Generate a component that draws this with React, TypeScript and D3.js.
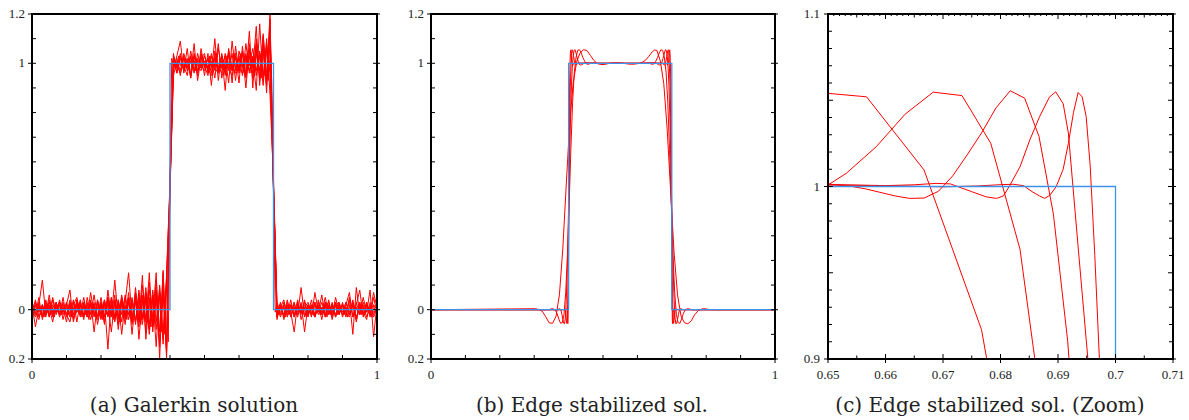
import * as d3 from 'd3'

// Galerkin runs: nodal values, in hundredths of u
// runs 1-7 on a uniform mesh of 100 elements, run 8 on 200 elements
const galerkinNodes = d3.range(0, 101).map((i) => i / 100)
const galerkinFineNodes = d3.range(0, 201).map((i) => i / 200)

const galerkinRun1 = [
    0, -3, 2, 12, -2, 3, -1, 2, -3, 1,
    -5, 3, -2, 4, -1, 2, -3, 7, -2, 1,
    -4, 3, -16, 5, -3, 4, -10, 3, 15, -4,
    6, -5, 14, -12, 5, -3, 15, -20, 16, -18,
    50, 97, 103, 109, 96, 102, 94, 104, 97, 103,
    95, 104, 91, 105, 97, 103, 89, 106, 97, 104,
    92, 107, 95, 113, 90, 110, 94, 108, 88, 118,
    50, -2, 3, -4, 2, -1, 3, -2, 9, -3,
    2, -2, 3, -1, 6, -3, 2, -2, 5, -1,
    2, -3, 4, -10, 9, -2, 3, -1, 8, -11,
    2,
]
const galerkinRun2 = [
    2, -7, 1, -3, 4, -2, 5, -1, 3, -4,
    2, 8, -5, 2, -3, 3, -2, 4, -9, 3,
    -3, 4, -2, 5, -4, 3, -5, 6, -2, 5,
    -6, 8, -4, 9, -8, 6, -15, 10, -12, 14,
    52, 104, 96, 102, 97, 106, 94, 103, 95, 106,
    98, 102, 96, 110, 93, 104, 97, 105, 92, 107,
    96, 104, 90, 106, 98, 115, 91, 112, 95, 120,
    48, -4, 2, -3, 4, -2, 1, -3, 3, -9,
    2, -3, 7, -1, 3, -2, 4, -3, 2, -2,
    3, -2, 5, -3, 2, 8, -3, 2, -2, 7,
    1,
]
const galerkinRun3 = [
    -1, 4, -3, 2, -2, 6, -3, 1, -2, 3,
    -2, -5, 3, -1, 4, -3, 2, -2, 6, -3,
    3, -6, 8, -3, 12, -4, 3, -6, 5, -10,
    4, -7, 10, -5, 15, -9, 6, -15, 12, -17,
    48, 95, 101, 97, 104, 99, 96, 108, 93, 102,
    104, 96, 101, 94, 106, 98, 103, 92, 109, 97,
    103, 95, 108, 97, 102, 89, 116, 93, 110, 87,
    53, 2, -3, 1, -2, 4, -3, 2, -1, 3,
    -3, 2, -2, 3, -1, 5, -2, 3, -3, 1,
    -2, 2, 7, -3, 3, -2, 5, -1, 2, -3,
    0,
]
const galerkinRun4 = [
    1, -2, 5, -4, 2, -3, 4, -2, 3, -1,
    3, -2, 4, -5, 3, -2, 3, -4, 2, -3,
    5, -3, 2, -9, 4, -3, 6, -2, 4, -5,
    7, -12, 5, -4, 8, -6, 12, -9, 15, -20,
    55, 102, 98, 104, 97, 101, 95, 103, 99, 97,
    101, 97, 104, 98, 96, 103, 95, 104, 98, 102,
    97, 105, 94, 103, 96, 108, 93, 106, 91, 113,
    47, -3, 2, -2, 3, -1, -9, 3, -2, 4,
    -2, 4, -3, 2, -4, 3, -1, 2, -2, 3,
    -1, 3, -2, 4, -4, 3, -2, 3, -3, 5,
    -1,
]
const galerkinRun5 = [
    -2, 3, -1, 2, -3, 4, -2, 3, -2, 5,
    -3, 2, -4, 3, -2, 5, -3, 2, -3, 4,
    -2, 4, -3, 3, -5, 4, -2, 5, -4, 3,
    -5, 6, -3, 7, -6, 8, -5, 9, -14, 13,
    50, 103, 99, 96, 102, 98, 103, 97, 101, 99,
    97, 102, 99, 103, 96, 101, 98, 103, 99, 96,
    102, 98, 104, 96, 103, 97, 105, 95, 106, 99,
    50, 1, -2, 3, -1, 2, -3, 2, -1, 2,
    -1, 2, -3, 1, -2, 3, -2, 1, -3, 2,
    -2, 3, -1, 2, -3, 1, -2, 3, -1, 2,
    0,
]
const galerkinRun6 = [
    3, -1, -4, 2, -2, 1, -5, 3, -1, 2,
    -2, 4, -3, -1, 3, -4, 5, -2, 3, -6,
    2, -3, 5, -2, 6, -8, 4, -3, 7, -6,
    9, -4, 6, -9, 11, -7, 8, -13, 10, -15,
    51, 101, 96, 103, 99, 95, 105, 98, 96, 104,
    99, 95, 103, 97, 108, 94, 101, 97, 104, 93,
    105, 99, 96, 108, 94, 104, 97, 111, 93, 115,
    51, -3, 1, 4, -3, 2, -2, 4, -4, 1,
    3, -1, -3, 4, -2, 1, 3, -4, 2, 3,
    -3, 1, -2, 3, -5, 2, -1, -4, 3, -2,
    1,
]
const galerkinRun7 = [
    -3, 2, 1, -2, 3, -3, 2, -1, 4, -2,
    1, -3, 2, 5, -2, 1, -2, 3, -1, -4,
    3, -5, 4, -2, 3, -6, 5, -4, 3, -2,
    -4, 5, -6, 4, -10, 5, -8, 7, -10, 11,
    49, 99, 102, 95, 103, 97, 101, 96, 104, 98,
    103, 98, 95, 102, 99, 96, 104, 98, 95, 103,
    98, 96, 103, 99, 106, 95, 104, 91, 107, 96,
    49, 3, -1, -2, 2, -3, 1, -1, 2, -2,
    -2, 1, 2, -2, 1, -3, 2, -1, 3, -2,
    2, -1, -3, 2, 1, -2, 2, -3, 1, -1,
    0,
]
const galerkinRun8 = [
    1, -2, 2, -1, 3, -2, 1, -3, 2, -1, 2, -2, 1, -3, 3, -1, 2, -2, 1, -2,
    3, -2, 2, -3, 1, -2, 4, -1, 2, -3, 3, -2, 1, -4, 3, -2, 2, -3, 4, -1,
    2, -4, 3, -2, 5, -3, 2, -4, 4, -2, 3, -5, 4, -3, 2, -4, 5, -3, 4, -2,
    5, -4, 3, -6, 4, -3, 6, -5, 4, -7, 6, -5, 8, -6, 7, -9, 8, -10, 11, -13,
    50,
    102, 99, 101, 98, 103, 99, 100, 97, 102, 101, 98, 103, 99, 101, 97, 102, 100, 98, 103,
    99, 101, 97, 103, 98, 101, 99, 104, 97, 102, 98, 101, 96, 103, 99, 102, 97, 104, 98, 101,
    97, 104, 99, 96, 103, 98, 105, 96, 102, 95, 106, 97, 104, 94, 107, 95, 108, 93, 110, 92,
    50,
    -1, 2, -2, 1, -1, 2, -3, 1, -2, 2, -1, 3, -2, 1, -1, 2, -2, 1, -3,
    2, -1, 1, -2, 3, -1, 2, -2, 1, -1, 2, -3, 1, -2, 2, -1, 3, -2, 1, -1,
    2, -2, 1, -3, 2, -1, 2, -2, 1, -1, 3, -2, 1, -2, 2, -1, 1, -3, 2, -1, 0,
]
const galerkinRuns = [galerkinRun1, galerkinRun2, galerkinRun3, galerkinRun4, galerkinRun5, galerkinRun6, galerkinRun7]

// exact solution
const exactX = [0, 0.4, 0.4, 0.7, 0.7, 1]
const exactU = [0, 0, 1, 1, 0, 0]

// edge stabilized runs, vertices [x, u], coarse to fine mesh
const edgeRunA = [
    [0, 0], [0.2933, 0.004], [0.3033, 0.004], [0.3133, 0.001], [0.3233, -0.006], [0.3333, -0.028],
    [0.3433, -0.053], [0.3533, -0.055], [0.3633, -0.028], [0.3733, 0.06], [0.3833, 0.25], [0.3933, 0.51],
    [0.4033, 0.76], [0.4133, 0.92], [0.4233, 1.005], [0.4333, 1.042], [0.4433, 1.055], [0.4533, 1.052],
    [0.4633, 1.032], [0.4733, 1.012], [0.4833, 0.999], [0.4933, 0.995], [0.5033, 0.995], [0.5133, 0.998],
    [0.5233, 1.001], [0.5333, 1.002], [0.5433, 1.002], [0.5533, 1.001], [0.5633, 0.999], [0.5733, 0.997],
    [0.5833, 0.996], [0.5933, 0.997], [0.6033, 0.999], [0.6133, 1.003], [0.6233, 1.012], [0.6333, 1.028],
    [0.6433, 1.047], [0.65, 1.054], [0.6567, 1.052], [0.6667, 1.0096], [0.6767, 0.917], [0.6867, 0.73],
    [0.6967, 0.48], [0.7067, 0.23], [0.7167, 0.06], [0.7267, -0.025], [0.7367, -0.053], [0.7467, -0.057],
    [0.7567, -0.045], [0.7667, -0.02], [0.7767, -0.004], [0.7867, 0.003], [0.7967, 0.004], [0.8067, 0.001],
    [0.8167, 0], [1, 0],
]
const edgeRunB = [
    [0, 0], [0.3416, 0], [0.3466, 0.002], [0.3516, 0.004], [0.3566, 0.003], [0.3616, -0.002],
    [0.3666, -0.016], [0.3716, -0.038], [0.3766, -0.055], [0.3816, -0.053], [0.3866, -0.02], [0.3916, 0.07],
    [0.3966, 0.22], [0.4016, 0.43], [0.4066, 0.65], [0.4116, 0.84], [0.4166, 0.9635], [0.4217, 1.025],
    [0.4267, 1.053], [0.4317, 1.055], [0.4366, 1.042], [0.4416, 1.023], [0.4468, 1.008], [0.4518, 0.997],
    [0.4568, 0.996], [0.4618, 0.998], [0.4668, 1.001], [0.4718, 1.002], [0.4768, 1.0015], [0.4818, 1.0],
    [0.6182, 1.0], [0.6232, 1.0015], [0.6282, 1.002], [0.6332, 1.0008], [0.6382, 0.998], [0.6432, 0.996],
    [0.6482, 0.997], [0.6532, 1.0077], [0.6584, 1.0231], [0.6634, 1.0419], [0.6683, 1.0547], [0.6733, 1.0527],
    [0.6783, 1.0251], [0.6834, 0.9635], [0.6884, 0.84], [0.6934, 0.65], [0.6984, 0.43], [0.7034, 0.22],
    [0.7084, 0.07], [0.7134, -0.02], [0.7184, -0.053], [0.7234, -0.055], [0.7284, -0.038], [0.7334, -0.016],
    [0.7384, -0.002], [0.7434, 0.003], [0.7484, 0.004], [0.7534, 0.002], [0.7584, 0], [1, 0],
]
const edgeRunC = [
    [0, 0], [0.3633, 0], [0.3683, 0.001], [0.3733, 0.004], [0.3758, 0.003], [0.3783, -0.005],
    [0.3808, -0.02], [0.3833, -0.04], [0.3858, -0.055], [0.3883, -0.057], [0.3908, -0.03], [0.3933, 0.04],
    [0.3958, 0.15], [0.3983, 0.3], [0.4008, 0.47], [0.4033, 0.64], [0.4058, 0.79], [0.4083, 0.91],
    [0.4108, 0.984], [0.4133, 1.029], [0.4158, 1.051], [0.4183, 1.0555], [0.4208, 1.0455], [0.4233, 1.031],
    [0.4258, 1.018], [0.4283, 1.006], [0.4308, 0.997], [0.4333, 0.9933], [0.4358, 0.9931], [0.4383, 0.9945],
    [0.4433, 0.9985], [0.4458, 1.0], [0.4508, 1.0018], [0.4558, 1.0025], [0.4608, 1.002], [0.4658, 1.001],
    [0.4708, 1.0], [0.6292, 1.0], [0.6342, 1.001], [0.6392, 1.002], [0.6442, 1.0025], [0.6492, 1.0018],
    [0.6542, 1.0], [0.6567, 0.9985], [0.6617, 0.9945], [0.6642, 0.9931], [0.6667, 0.9933], [0.6692, 0.9972],
    [0.6717, 1.0062], [0.6742, 1.0183], [0.6767, 1.031], [0.6792, 1.0455], [0.6817, 1.0555], [0.6842, 1.0512],
    [0.6867, 1.029], [0.6892, 0.984], [0.6917, 0.91], [0.6942, 0.79], [0.6967, 0.64], [0.6992, 0.47],
    [0.7017, 0.3], [0.7042, 0.15], [0.7067, 0.04], [0.7092, -0.03], [0.7117, -0.057], [0.7142, -0.055],
    [0.7167, -0.04], [0.7192, -0.02], [0.7217, -0.005], [0.7242, 0.003], [0.7267, 0.004], [0.7317, 0.001],
    [0.7367, 0], [1, 0],
]
const edgeRunD = [
    [0, 0], [0.382, 0], [0.386, 0.001], [0.3885, 0.004], [0.3898, 0.002], [0.391, -0.008],
    [0.3923, -0.025], [0.3935, -0.045], [0.3948, -0.056], [0.396, -0.045], [0.3973, 0.02], [0.3985, 0.13],
    [0.3998, 0.28], [0.401, 0.45], [0.4023, 0.62], [0.4035, 0.78], [0.4048, 0.9], [0.4065, 0.965],
    [0.4082, 1.031], [0.4091, 1.048], [0.4104, 1.0549], [0.4115, 1.0518], [0.4132, 1.0405], [0.4149, 1.027],
    [0.4166, 1.0115], [0.4184, 1.0005], [0.4195, 0.9945], [0.4207, 0.9931], [0.4225, 0.994], [0.425, 0.997],
    [0.4287, 1.0015], [0.4312, 1.0018], [0.435, 1.001], [0.44, 1.0005], [0.45, 1.0008], [0.46, 1.0005],
    [0.47, 1.0], [0.63, 1.0], [0.64, 1.0005], [0.65, 1.0008], [0.66, 1.0005], [0.665, 1.001],
    [0.6688, 1.0018], [0.6713, 1.0015], [0.675, 0.997], [0.6775, 0.994], [0.6793, 0.9931], [0.6805, 0.9945],
    [0.6816, 1.0005], [0.6834, 1.0115], [0.6851, 1.027], [0.6868, 1.0405], [0.6885, 1.0518], [0.6896, 1.0549],
    [0.6909, 1.048], [0.6918, 1.031], [0.6935, 0.965], [0.6952, 0.9], [0.6965, 0.78], [0.6977, 0.62],
    [0.699, 0.45], [0.7002, 0.28], [0.7015, 0.13], [0.7027, 0.02], [0.704, -0.045], [0.7052, -0.056],
    [0.7065, -0.045], [0.7077, -0.025], [0.709, -0.008], [0.7102, 0.002], [0.7115, 0.004], [0.714, 0.001],
    [0.718, 0], [1, 0],
]
const edgeRunE = [
    [0, 0], [0.391, 0], [0.3935, 0.002], [0.3947, 0.004], [0.3954, 0.001], [0.396, -0.012],
    [0.3966, -0.032], [0.3972, -0.05], [0.3979, -0.056], [0.3985, -0.04], [0.3991, 0.03], [0.3997, 0.14],
    [0.4004, 0.29], [0.401, 0.45], [0.4016, 0.62], [0.4022, 0.78], [0.4028, 0.9], [0.4036, 0.96],
    [0.4044, 1.012], [0.4051, 1.0405], [0.4058, 1.052], [0.4065, 1.0545], [0.4073, 1.043], [0.4082, 1.025],
    [0.4091, 1.01], [0.4103, 1.0], [0.4114, 0.995], [0.4123, 0.9931], [0.4132, 0.9945], [0.4145, 0.997],
    [0.416, 1.0005], [0.4178, 1.0013], [0.4203, 1.001], [0.424, 1.0003], [0.43, 0.9998], [0.44, 1.0005],
    [0.45, 1.0012], [0.47, 1.0], [0.63, 1.0], [0.65, 1.0012], [0.66, 1.0005], [0.67, 0.9998],
    [0.676, 1.0003], [0.6797, 1.001], [0.6822, 1.0013], [0.684, 1.0005], [0.6855, 0.997], [0.6868, 0.9945],
    [0.6877, 0.9931], [0.6886, 0.995], [0.6897, 1.0], [0.6909, 1.01], [0.6918, 1.025], [0.6927, 1.043],
    [0.6935, 1.0545], [0.6942, 1.052], [0.6949, 1.0405], [0.6956, 1.012], [0.6964, 0.96], [0.6972, 0.9],
    [0.6978, 0.78], [0.6984, 0.62], [0.699, 0.45], [0.6996, 0.29], [0.7003, 0.14], [0.7009, 0.03],
    [0.7015, -0.04], [0.7021, -0.056], [0.7028, -0.05], [0.7034, -0.032], [0.704, -0.012], [0.7046, 0.001],
    [0.7053, 0.004], [0.7065, 0.002], [0.709, 0], [1, 0],
]
const edgeRuns = [edgeRunA, edgeRunB, edgeRunC, edgeRunD, edgeRunE]

// tick labels, as printed
const fullXLabels = [[0, '0'], [1, '1']]
const fullYLabels = [[-0.2, '0.2'], [0, '0'], [1, '1'], [1.2, '1.2']]
const zoomXLabels = [[0.65, '0.65'], [0.66, '0.66'], [0.67, '0.67'], [0.68, '0.68'], [0.69, '0.69'], [0.7, '0.7'], [0.71, '0.71']]
const zoomYLabels = [[0.9, '0.9'], [1, '1'], [1.1, '1.1']]

const RED = '#ff0000'
const BLUE = '#3b93ec'
const SERIF = '"Liberation Serif", "Times New Roman", serif'
const CAPTION_FONT = '"DejaVu Serif", serif'

const fullXTicks = d3.range(0, 11).map((i) => ({ v: i / 10, len: 4, bottom: true }))
const fullYTicks = d3.range(-2, 13).map((i) => ({ v: i / 10, len: 4 }))
const zoomXTicks = d3.range(0, 61).map((i) => ({
    v: 0.65 + i / 1000,
    len: i % 10 === 0 ? 5 : i % 5 === 0 ? 3.5 : 2,
    bottom: i % 5 === 0,
}))
const zoomYTicks = d3.range(0, 21).map((i) => ({ v: 0.9 + i / 100, len: i % 5 === 0 ? 5 : 4 }))

function Panel({ id, left, right, top, bottom, xDomain, yDomain, curves, xLabels, yLabels, xTicks, yTicks, topTicks, caption, captionX, labelGap }) {
    const x = d3.scaleLinear().domain(xDomain).range([left, right])
    const y = d3.scaleLinear().domain(yDomain).range([bottom, top])
    const line = d3
        .line()
        .x((d) => x(d[0]))
        .y((d) => y(d[1]))

    const exactPts = exactX.map((v, i) => [v, exactU[i]])

    return (
        <g>
            <defs>
                <clipPath id={id}>
                    <rect x={left} y={top} width={right - left} height={bottom - top} />
                </clipPath>
            </defs>
            <g clipPath={`url(#${id})`}>
                {curves.map((c, i) => (
                    <path key={i} d={line(c)} fill="none" stroke={RED} strokeWidth={1} strokeLinejoin="round" />
                ))}
                <path d={line(exactPts)} fill="none" stroke={BLUE} strokeWidth={1.3} />
            </g>

            {yTicks.map((t, i) => (
                <g key={'y' + i} stroke="#000" strokeWidth={1}>
                    <line x1={left} x2={left + t.len} y1={y(t.v)} y2={y(t.v)} />
                    <line x1={right} x2={right - t.len} y1={y(t.v)} y2={y(t.v)} />
                </g>
            ))}
            {xTicks.map((t, i) => (
                <g key={'x' + i} stroke="#000" strokeWidth={1}>
                    {t.bottom && <line x1={x(t.v)} x2={x(t.v)} y1={bottom} y2={bottom - t.len} />}
                    {topTicks && <line x1={x(t.v)} x2={x(t.v)} y1={top} y2={top + t.len} />}
                </g>
            ))}
            {yLabels.map(([v, s]) => (
                <g key={'yl' + s}>
                    <line x1={left - 4} x2={left} y1={y(v)} y2={y(v)} stroke="#000" />
                    <line x1={right} x2={right + 3} y1={y(v)} y2={y(v)} stroke="#000" />
                    <text x={left - labelGap} y={y(v) + 4} textAnchor="end" fontFamily={SERIF} fontSize={13} fill="#222">
                        {s}
                    </text>
                </g>
            ))}
            {xLabels.map(([v, s]) => (
                <g key={'xl' + s}>
                    <line x1={x(v)} x2={x(v)} y1={bottom} y2={bottom + 4} stroke="#000" />
                    <text x={x(v)} y={379} textAnchor="middle" fontFamily={SERIF} fontSize={13} fill="#222">
                        {s}
                    </text>
                </g>
            ))}

            <rect x={left} y={top} width={right - left} height={bottom - top} fill="none" stroke="#000" strokeWidth={2} />

            <text x={captionX} y={412} textAnchor="middle" fontFamily={CAPTION_FONT} fontSize={20} fill="#222">
                {caption}
            </text>
        </g>
    )
}

export default function App() {
    const galerkinCurves = galerkinRuns.map((run) => run.map((u, i) => [galerkinNodes[i], u / 100]))
    galerkinCurves.push(galerkinRun8.map((u, i) => [galerkinFineNodes[i], u / 100]))

    return (
        <svg width={1189} height={420} style={{ position: 'absolute', left: 0, top: 0, background: '#fff' }}>
            <Panel
                id="clipA"
                left={32}
                right={377}
                top={14}
                bottom={359}
                xDomain={[0, 1]}
                yDomain={[-0.2, 1.2]}
                curves={galerkinCurves}
                xLabels={fullXLabels}
                yLabels={fullYLabels}
                xTicks={fullXTicks}
                yTicks={fullYTicks}
                topTicks={false}
                caption="(a) Galerkin solution"
                captionX={194}
                labelGap={7}
            />
            <Panel
                id="clipB"
                left={431}
                right={775}
                top={14}
                bottom={359}
                xDomain={[0, 1]}
                yDomain={[-0.2, 1.2]}
                curves={edgeRuns}
                xLabels={fullXLabels}
                yLabels={fullYLabels}
                xTicks={fullXTicks}
                yTicks={fullYTicks}
                topTicks={false}
                caption="(b) Edge stabilized sol."
                captionX={592}
                labelGap={7}
            />
            <Panel
                id="clipC"
                left={828}
                right={1173}
                top={14}
                bottom={359}
                xDomain={[0.65, 0.71]}
                yDomain={[0.9, 1.1]}
                curves={edgeRuns}
                xLabels={zoomXLabels}
                yLabels={zoomYLabels}
                xTicks={zoomXTicks}
                yTicks={zoomYTicks}
                topTicks={true}
                caption="(c) Edge stabilized sol. (Zoom)"
                captionX={990}
                labelGap={8}
            />
        </svg>
    )
}
